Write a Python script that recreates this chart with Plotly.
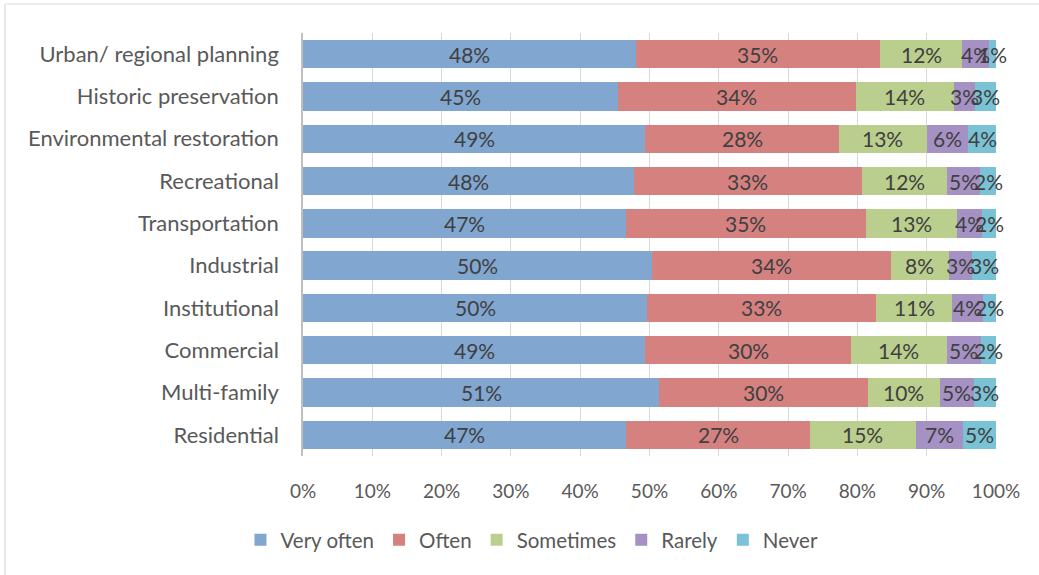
import plotly.graph_objects as go

# Project types, top to bottom
categories = [
    "Urban/ regional planning",
    "Historic preservation",
    "Environmental restoration",
    "Recreational",
    "Transportation",
    "Industrial",
    "Institutional",
    "Commercial",
    "Multi-family",
    "Residential",
]

# Share of respondents (%) per frequency answer
very_often = [48.0, 45.4, 49.4, 47.8, 46.6, 50.4, 49.7, 49.4, 51.4, 46.6]
often      = [35.3, 34.4, 27.9, 32.8, 34.6, 34.4, 33.0, 29.7, 30.1, 26.6]
sometimes  = [11.8, 14.1, 12.7, 12.4, 13.2, 8.4, 11.0, 13.8, 10.4, 15.2]
rarely     = [3.9, 3.0, 6.0, 4.7, 3.6, 3.4, 4.4, 4.9, 4.9, 6.8]
never      = [1.0, 3.1, 4.0, 2.3, 2.0, 3.4, 1.9, 2.2, 3.2, 4.8]

series = [
    ("Very often", very_often, "#81a6d0"),
    ("Often", often, "#d48180"),
    ("Sometimes", sometimes, "#bacf8e"),
    ("Rarely", rarely, "#a591c3"),
    ("Never", never, "#7ac3d6"),
]

tick_vals = [0, 10, 20, 30, 40, 50, 60, 70, 80, 90, 100]
tick_text = [f"{v}%" for v in tick_vals]

FONT = "Lato, Calibri, sans-serif"

fig = go.Figure()
for name, vals, color in series:
    fig.add_trace(go.Bar(
        y=categories,
        x=vals,
        name=name,
        orientation="h",
        marker=dict(color=color, line=dict(width=0)),
        hoverinfo="skip",
    ))

# Value labels centred in each segment (kept unclipped, like the small
# "Never" segments that spill past the 100% line)
labels = []
left = [0.0] * len(categories)
for name, vals, color in series:
    for i, (cat, v) in enumerate(zip(categories, vals)):
        labels.append(dict(
            x=left[i] + v / 2, y=cat, xref="x", yref="y",
            text=f"{v:.0f}%", showarrow=False,
            xanchor="center", yanchor="middle",
            font=dict(family=FONT, size=21, color="#404040"),
        ))
        left[i] += v

W, H = 1039, 575
ml, mr, mt, mb = 303, 43, 33, 119
pw, ph = W - ml - mr, H - mt - mb

# Outer frame lines (top and left edges of the chart area)
def px_to_paper_x(px):
    return (px - ml) / pw

def py_to_paper_y(py):
    return (H - mb - py) / ph

fig.add_shape(type="line", xref="paper", yref="paper",
              x0=px_to_paper_x(5), x1=px_to_paper_x(1045),
              y0=py_to_paper_y(4), y1=py_to_paper_y(4),
              line=dict(color="#d9d9d9", width=1.2))
fig.add_shape(type="line", xref="paper", yref="paper",
              x0=px_to_paper_x(5), x1=px_to_paper_x(5),
              y0=py_to_paper_y(4), y1=py_to_paper_y(580),
              line=dict(color="#d9d9d9", width=1.2))

fig.update_layout(
    width=W, height=H,
    barmode="stack",
    bargap=0.33,
    margin=dict(l=ml, r=mr, t=mt, b=mb),
    paper_bgcolor="white",
    plot_bgcolor="white",
    font=dict(family=FONT, color="#595959"),
    annotations=labels,
    xaxis=dict(
        range=[0, 100],
        tickvals=tick_vals,
        ticktext=tick_text,
        showgrid=True,
        gridcolor="#d9d9d9",
        gridwidth=1,
        zeroline=False,
        showline=False,
        ticks="",
        ticklabelstandoff=22,
        tickfont=dict(family=FONT, size=19, color="#595959"),
    ),
    yaxis=dict(
        categoryorder="array",
        categoryarray=categories,
        autorange="reversed",
        showgrid=False,
        zeroline=False,
        showline=True,
        linecolor="#bfbfbf",
        linewidth=1.5,
        ticks="",
        ticklabelstandoff=18,
        tickfont=dict(family=FONT, size=22, color="#595959"),
    ),
    legend=dict(
        orientation="h",
        xref="container", yref="container",
        x=0.512, xanchor="center",
        y=0.061, yanchor="middle",
        font=dict(family=FONT, size=20.5, color="#595959"),
        itemwidth=30,
        traceorder="normal",
    ),
    showlegend=True,
)

fig.write_html("out.html")
